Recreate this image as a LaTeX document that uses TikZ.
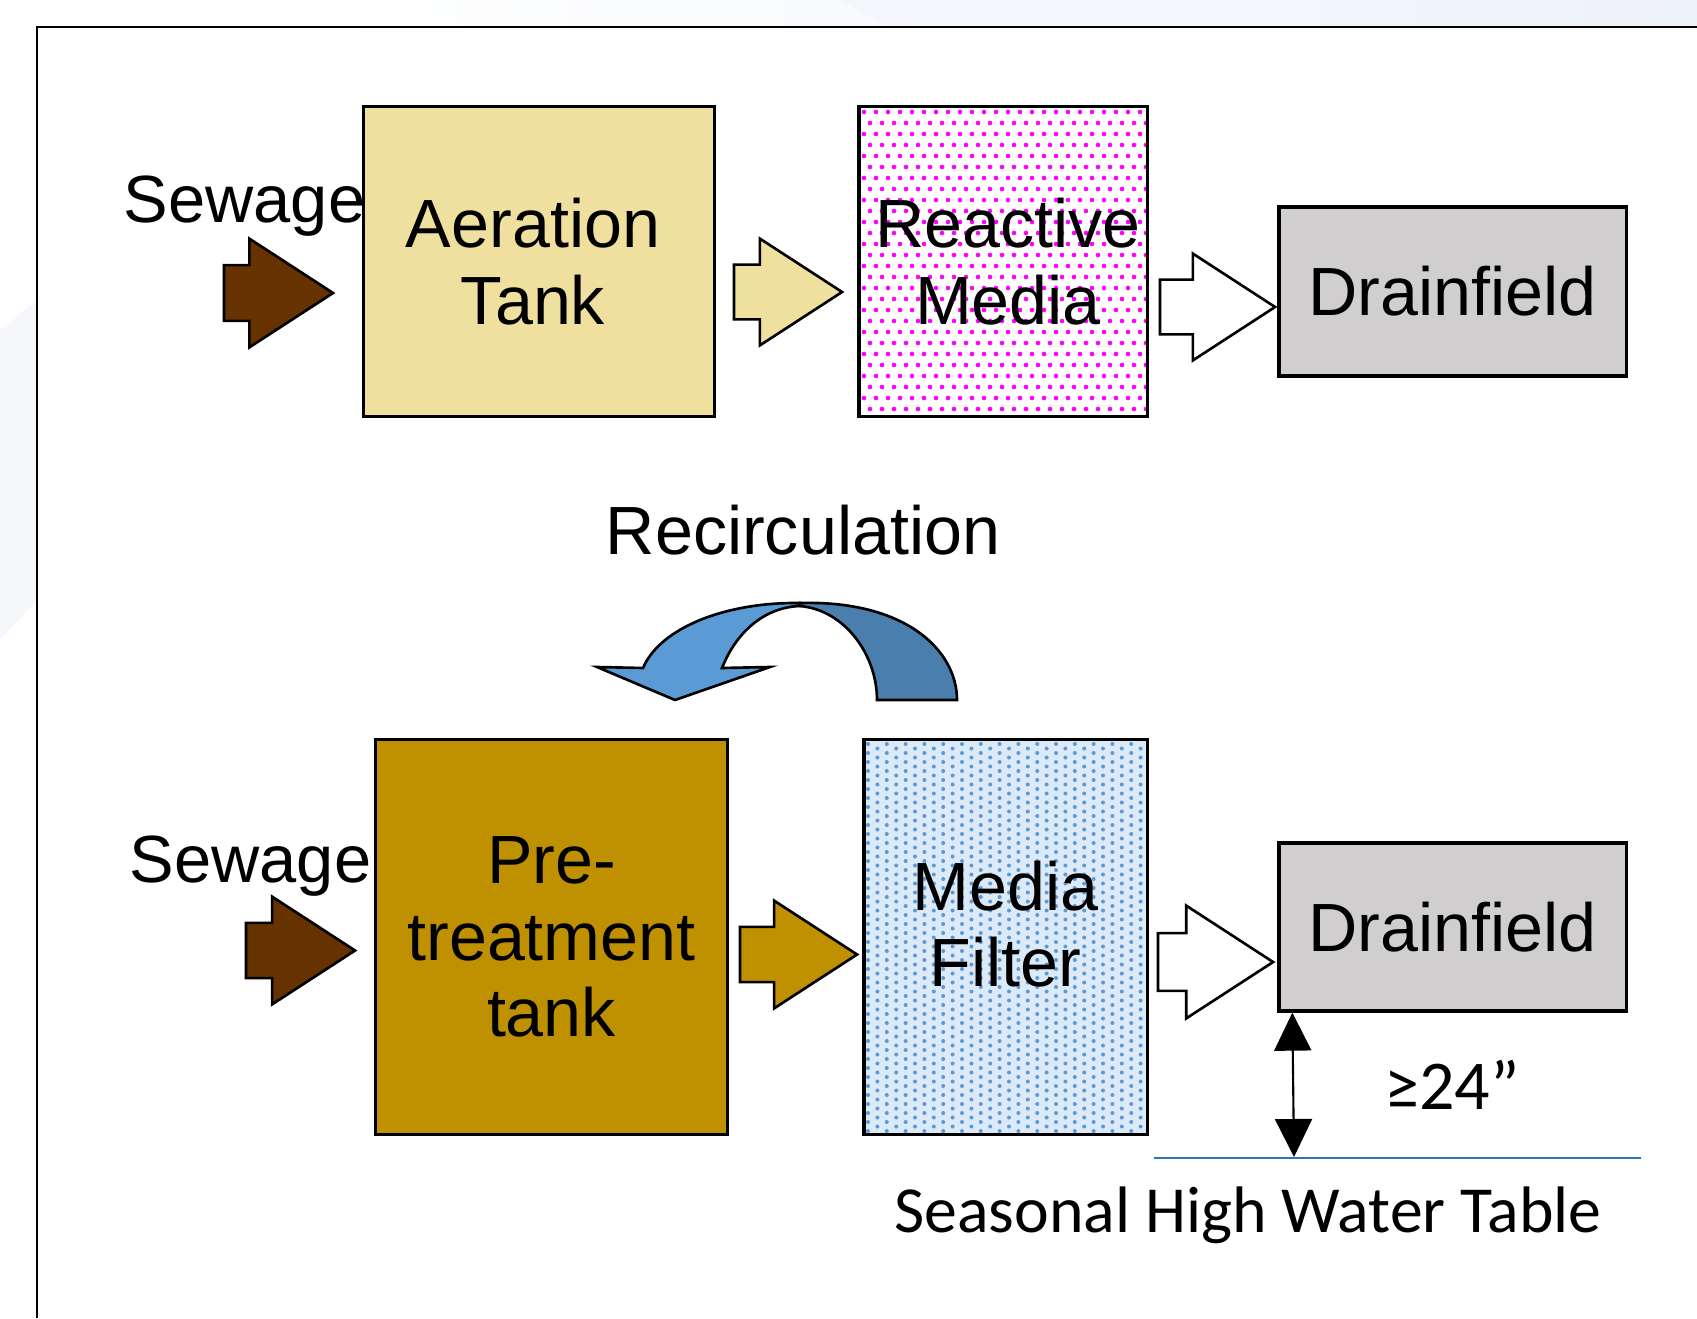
\documentclass[tikz,border=0pt]{standalone}
\usepackage{fontspec}
\setmainfont{Liberation Sans}
\newfontfamily\carlito{Carlito}
\usetikzlibrary{shapes.arrows,arrows.meta}
\definecolor{aer}{HTML}{F0E0A0}
\definecolor{brn}{HTML}{663300}
\definecolor{gld}{HTML}{BF9000}
\definecolor{drn}{HTML}{D0CECE}
\definecolor{mag}{HTML}{FF00FF}
\definecolor{lblue}{HTML}{5B9BD5}
\definecolor{dblue}{HTML}{4A7EAC}
\definecolor{wline}{HTML}{2E75B6}
\definecolor{mfill}{HTML}{DCE9F6}
\definecolor{mdot}{HTML}{5B9BD5}
\definecolor{bgb}{HTML}{EEF2F9}
\begin{document}
\begin{tikzpicture}[x=0.01cm,y=-0.01cm,
  box/.style={draw=black, line width=0.9pt, inner sep=0pt, align=center,
    font=\fontsize{19.4}{21.8}\selectfont},
  lbl/.style={font=\fontsize{19.4}{21.8}\selectfont, inner sep=0pt},
  swlbl/.style={font=\fontsize{19}{21.6}\selectfont, inner sep=0pt, anchor=base east},
  flow/.style={single arrow, draw=black, line width=0.75pt, inner xsep=0pt,
    outer sep=0pt, single arrow tip angle=66, anchor=tail},
]
\useasboundingbox (0,0) rectangle (1697,1318);
% background
\fill[white] (0,0) rectangle (1697,1318);
\shade[left color=white, right color=bgb] (300,0) rectangle (1697,27);
\fill[bgb!70, opacity=0.8] (840,0) -- (1420,0) -- (1390,27) -- (890,27) -- cycle;
\fill[bgb!60] (0,330) -- (37,300) -- (37,600) -- (0,640) -- cycle;
\draw[line width=0.7pt] (37,1318) -- (37,27) -- (1697,27);

% ---- top row ----
\node[box, fill=aer, minimum width=3.5cm, minimum height=3.09cm] (aer) at (539,261.5) {};
\node[lbl, align=center] (aert) at ([xshift=-0.06cm]aer.center) {Aeration\\Tank};

\begin{scope}
  \clip (859,107) rectangle (1147,416);
  \foreach \i in {0,...,24}{
    \foreach \j in {0,...,14}{
      \fill[mag] (864+12*\i,112+22*\j) circle[radius=0.023cm];
      \fill[mag] (870+12*\i,123+22*\j) circle[radius=0.023cm];
    }}
\end{scope}
\node[box, minimum width=2.88cm, minimum height=3.09cm] (rm) at (1003,261.5) {};
\node[lbl, align=center] (rmt) at ([xshift=0.05cm]rm.center) {Reactive\\Media};

\node[box, fill=drn, minimum width=3.47cm, minimum height=1.69cm] (df1) at (1452.5,291.5) {Drainfield};

\node[swlbl] (sw1) at (366,222) {Sewage};

\node[flow, fill=brn, minimum height=1.09cm, inner ysep=0.265cm, single arrow head extend=0.265cm] (a1) at (224,293) {};
\node[flow, fill=aer, minimum height=1.08cm, inner ysep=0.26cm, single arrow head extend=0.26cm] (a2) at (734,292) {};
\node[flow, fill=white, minimum height=1.15cm, inner ysep=0.26cm, single arrow head extend=0.26cm] (a3) at (1160,307) {};

% ---- recirculation ----
\node[lbl, anchor=base] (rc) at (803,554) {Recirculation};
\draw[line width=0.75pt, fill=lblue, line join=miter]
  (800,603) .. controls (725,602) and (660,628) .. (643,668)
  -- (597,667) -- (675,700) -- (770,667) -- (722,668)
  .. controls (738,628) and (768,607) .. (800,606) -- cycle;
\draw[line width=0.75pt, fill=dblue]
  (800,603) .. controls (905,600) and (957,650) .. (957,700)
  -- (877,700) .. controls (877,655) and (845,610) .. (800,606) -- cycle;

% ---- bottom row ----
\node[box, fill=gld, minimum width=3.51cm, minimum height=3.94cm] (pt) at (551.5,937) {Pre-\\treatment\\tank};

\fill[mfill] (864,740) rectangle (1147,1134);
\begin{scope}
  \clip (864,740) rectangle (1147,1134);
  \foreach \i in {0,...,15}{
    \foreach \j in {0,...,44}{
      \fill[mdot] (868+18.8*\i,744+9*\j) circle[radius=0.02cm];
      \fill[mdot] (877.4+18.8*\i,748.5+9*\j) circle[radius=0.02cm];
    }}
\end{scope}
\node[box, minimum width=2.83cm, minimum height=3.94cm] (mf) at (1005.5,937) {};
\node[lbl, align=center] (mft) at ([yshift=0.13cm]mf.center) {Media\\Filter};

\node[box, fill=drn, minimum width=3.47cm, minimum height=1.68cm] (df2) at (1452.5,927) {Drainfield};

\node[swlbl] (sw2) at (372,882) {Sewage};

\node[flow, fill=brn, minimum height=1.09cm, inner ysep=0.2625cm, single arrow head extend=0.2625cm] (b1) at (246,950.5) {};
\node[flow, fill=gld, minimum height=1.17cm, inner ysep=0.2625cm, single arrow head extend=0.2625cm] (b2) at (740,954.5) {};
\node[flow, fill=white, minimum height=1.15cm, inner ysep=0.275cm, single arrow head extend=0.275cm] (b3) at (1158,962) {};

% ---- water table ----
\coordinate (wl1) at (1154,1158);
\coordinate (wl2) at (1641,1158);
\coordinate (wt) at (1294,1157);
\draw[wline, line width=0.8pt] (wl1) -- (wl2);
\draw[line width=0.6pt, {Triangle[width=0.37cm,length=0.38cm]}-{Triangle[width=0.37cm,length=0.38cm]}]
  ([xshift=0.15cm]df2.south west) -- (wt);
\node[anchor=base, inner sep=0pt, font=\carlito\fontsize{19.9}{22}\selectfont] (dist) at (1452,1109) {≥24”};
\node[anchor=base, inner sep=0pt, font=\carlito\fontsize{18.7}{22}\selectfont] (swt) at (1248,1232) {Seasonal High Water Table};
\end{tikzpicture}
\end{document}
